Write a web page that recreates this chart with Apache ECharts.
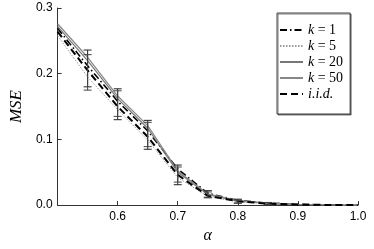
<!DOCTYPE html>
<html><head><meta charset="utf-8">
<script src="https://cdn.jsdelivr.net/npm/echarts@6/dist/echarts.min.js"></script>
<style>html,body{margin:0;padding:0;background:#fff}#c{width:374px;height:249px}</style>
</head><body><div id="c"></div>
<script>
const alpha = [0.5, 0.55, 0.6, 0.65, 0.7, 0.75, 0.8, 0.85, 0.9, 0.95, 1.0];
const k1  = [0.269, 0.212, 0.158, 0.113, 0.055, 0.018, 0.007, 0.003, 0.001, 0.0003, 0];
const k5  = [0.258, 0.195, 0.145, 0.099, 0.042, 0.013, 0.005, 0.002, 0.001, 0.0002, 0];
const k20 = [0.272, 0.220, 0.162, 0.117, 0.050, 0.016, 0.006, 0.003, 0.001, 0.0003, 0];
const k50 = [0.276, 0.225, 0.166, 0.121, 0.052, 0.017, 0.007, 0.003, 0.001, 0.0003, 0];
const iid = [0.264, 0.205, 0.150, 0.104, 0.046, 0.014, 0.006, 0.002, 0.001, 0.0002, 0];
// error bars: [alpha, low, high]
const errAlpha = [0.55, 0.6, 0.65, 0.7, 0.75, 0.8, 0.85];
const errLowA  = [0.180, 0.130, 0.085, 0.031, 0.012, 0.003, 0.001];
const errHighA = [0.236, 0.177, 0.129, 0.061, 0.022, 0.009, 0.004];
const errLowB  = [0.175, 0.135, 0.089, 0.035, 0.011, 0.003, 0.001];
const errHighB = [0.229, 0.174, 0.126, 0.058, 0.020, 0.008, 0.004];
const labels = ['k = 1', 'k = 5', 'k = 20', 'k = 50', 'i.i.d.'];

const pair = arr => alpha.map((a, i) => [a, arr[i]]);
const errData = (lo, hi) => errAlpha.map((a, i) => [a, lo[i], hi[i]]);

function errRender(color) {
  return function (params, api) {
    const x = api.value(0), lo = api.value(1), hi = api.value(2);
    const p1 = api.coord([x, lo]), p2 = api.coord([x, hi]);
    const w = 4;
    const st = { stroke: color, lineWidth: 1 };
    return { type: 'group', children: [
      { type: 'line', shape: { x1: p1[0], y1: p1[1], x2: p2[0], y2: p2[1] }, style: st },
      { type: 'line', shape: { x1: p1[0] - w, y1: p1[1], x2: p1[0] + w, y2: p1[1] }, style: st },
      { type: 'line', shape: { x1: p2[0] - w, y1: p2[1], x2: p2[0] + w, y2: p2[1] }, style: st }
    ]};
  };
}

const serif = 'Liberation Serif';
function legendFmt(name) {
  if (name === 'i.i.d.') return '{it|i.i.d.}';
  const parts = name.split(' = ');
  return '{it|k}{rm| = ' + parts[1] + '}';
}

const chart = echarts.init(document.getElementById('c'), null, { renderer: 'canvas' });
const line = (name, data, color, width, type) => ({
  name, type: 'line', data: pair(data), showSymbol: false, symbol: 'none',
  lineStyle: { color, width, type }, itemStyle: { color }, z: 3, animation: false
});
chart.setOption({
  animation: false,
  grid: { left: 43, right: 16, top: 8, bottom: 29 },
  xAxis: {
    type: 'value', min: 0.5, max: 1.0, interval: 0.1,
    name: 'α', nameLocation: 'middle', nameGap: 20,
    nameTextStyle: { fontFamily: serif, fontStyle: 'italic', fontSize: 16, color: '#000' },
    axisLine: { lineStyle: { color: '#333', width: 1 } },
    axisTick: { inside: true, length: 4, lineStyle: { color: '#333' } },
    axisLabel: { showMinLabel: false, color: '#000', fontSize: 12, fontFamily: 'Liberation Sans', margin: 6,
      formatter: v => v.toFixed(1) },
    splitLine: { show: false }
  },
  yAxis: {
    type: 'value', min: 0, max: 0.3, interval: 0.1,
    name: 'MSE', nameLocation: 'middle', nameGap: 30, nameRotate: 90,
    nameTextStyle: { fontFamily: serif, fontStyle: 'italic', fontSize: 17, color: '#000' },
    axisLine: { show: true, lineStyle: { color: '#333', width: 1 } },
    axisTick: { show: true, inside: true, length: 4, lineStyle: { color: '#333' } },
    axisLabel: { color: '#000', fontSize: 12, fontFamily: 'Liberation Sans', margin: 5,
      formatter: v => v.toFixed(1) },
    splitLine: { show: false }
  },
  legend: {
    orient: 'vertical', left: 277, top: 13,
    padding: [9, 7, 12, 2],
    borderColor: '#444', borderWidth: 1,
    shadowColor: 'rgba(0,0,0,0.5)', shadowOffsetX: 1, shadowOffsetY: 1, shadowBlur: 0,
    backgroundColor: '#fff',
    itemWidth: 23, itemHeight: 10, itemGap: 0,
    itemStyle: { opacity: 0 },
    data: labels,
    formatter: legendFmt,
    textStyle: { fontFamily: serif, fontSize: 14, color: '#000', lineHeight: 16,
      rich: { it: { fontFamily: serif, fontStyle: 'italic', fontSize: 14, lineHeight: 16 },
              rm: { fontFamily: serif, fontSize: 14, lineHeight: 16 } } }
  },
  series: [
    line(labels[0], k1, '#000', 1.6, [7, 3, 1.5, 3]),
    line(labels[1], k5, '#9a9a9a', 1, [1.5, 1.5]),
    line(labels[2], k20, '#777', 1.2, 'solid'),
    line(labels[3], k50, '#888', 1.2, 'solid'),
    line(labels[4], iid, '#000', 2, [7, 4]),
    { type: 'custom', renderItem: errRender('#222'), data: errData(errLowA, errHighA), z: 4, silent: true },
    { type: 'custom', renderItem: errRender('#444'), data: errData(errLowB, errHighB), z: 4, silent: true }
  ]
});
</script></body></html>
